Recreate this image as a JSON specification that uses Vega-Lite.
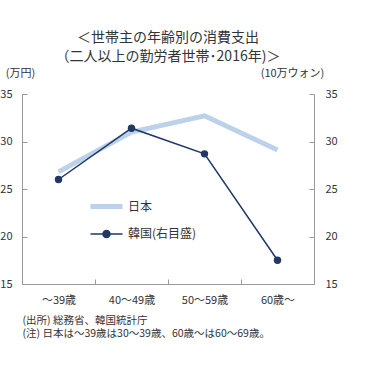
{
  "$schema": "https://vega.github.io/schema/vega-lite/v6.json",
  "width": 292,
  "height": 190,
  "autosize": "none",
  "padding": {"left": 22, "top": 94, "right": 61, "bottom": 101},
  "background": "white",
  "config": {
    "font": "Noto Sans CJK JP",
    "view": {"stroke": null},
    "axis": {"labelFont": "Noto Sans CJK JP", "titleFont": "Noto Sans CJK JP", "labelColor": "#333", "titleColor": "#333", "domainColor": "#999", "tickColor": "#999", "grid": false, "labelFontSize": 11, "titleFontWeight": "normal"}
  },
  "title": {
    "text": ["＜世帯主の年齢別の消費支出", "（二人以上の勤労者世帯･2016年)＞"],
    "fontSize": 14,
    "fontWeight": "normal",
    "color": "#333",
    "lineHeight": 19,
    "anchor": "middle",
    "frame": "group",
    "offset": 3
  },
  "data": {"values": [
    {"age": "～39歳", "series": "日本", "value": 26.8},
    {"age": "40～49歳", "series": "日本", "value": 31.0},
    {"age": "50～59歳", "series": "日本", "value": 32.7},
    {"age": "60歳～", "series": "日本", "value": 29.1},
    {"age": "～39歳", "series": "韓国(右目盛)", "value": 26.0},
    {"age": "40～49歳", "series": "韓国(右目盛)", "value": 31.4},
    {"age": "50～59歳", "series": "韓国(右目盛)", "value": 28.7},
    {"age": "60歳～", "series": "韓国(右目盛)", "value": 17.5}
  ]},
  "encoding": {
    "x": {
      "field": "age", "type": "ordinal", "sort": null,
      "scale": {"paddingInner": 0, "paddingOuter": 0},
      "axis": {
        "labelAngle": 0, "tickSize": -5, "labelPadding": 15, "tickBand": "extent",
        "title": ["(出所) 総務省、韓国統計庁", "(注) 日本は～39歳は30～39歳、60歳～は60～69歳。"],
        "titleFontSize": 10.5, "titleAnchor": "start", "titleAlign": "left", "titleX": 0, "titlePadding": 10, "titleLineHeight": 13.5
      }
    }
  },
  "layer": [
    {
      "transform": [{"filter": "datum.series === '日本'"}],
      "mark": {"type": "line", "strokeCap": "butt"},
      "encoding": {
        "y": {"field": "value", "type": "quantitative", "scale": {"domain": [15, 35]},
          "axis": {"orient": "left", "values": [15, 20, 25, 30, 35], "tickSize": -5, "labelPadding": 15, "title": "(万円)", "titleAngle": 0, "titleAlign": "center", "titleBaseline": "middle", "titleX": -2, "titleY": -21, "titleFontSize": 11}},
        "color": {"field": "series", "type": "nominal", "scale": {"domain": ["日本", "韓国(右目盛)"], "range": ["#bcd2ea", "#1f3864"]},
          "legend": {"title": null, "orient": "none", "legendX": 66, "legendY": 94, "symbolType": "stroke", "symbolSize": 1024, "labelFontSize": 12, "labelColor": "#333", "rowPadding": -8, "labelOffset": 3,
            "encode": {"symbols": {"update": {
              "shape": {"signal": "datum.value === '日本' ? 'stroke' : 'M-1,0H1M0.22,0A0.22,0.22,0,1,1,-0.22,0A0.22,0.22,0,1,1,0.22,0Z'"},
              "fill": {"signal": "datum.value === '日本' ? 'transparent' : '#1f3864'"},
              "strokeWidth": {"signal": "datum.value === '日本' ? 5 : 1.5"}
            }}}}},
        "strokeWidth": {"field": "series", "type": "nominal", "scale": {"domain": ["日本", "韓国(右目盛)"], "range": [5, 1.5]}, "legend": null}
      }
    },
    {
      "transform": [{"filter": "datum.series !== '日本'"}],
      "encoding": {
        "y": {"field": "value", "type": "quantitative", "scale": {"domain": [15, 35]},
          "axis": {"orient": "right", "values": [15, 20, 25, 30, 35], "tickSize": -5, "labelPadding": 16, "title": "(10万ウォン)", "titleAngle": 0, "titleAlign": "center", "titleBaseline": "middle", "titleX": -22, "titleY": -21, "titleFontSize": 11}},
        "color": {"field": "series", "type": "nominal"},
        "strokeWidth": {"field": "series", "type": "nominal"}
      },
      "layer": [
        {"mark": {"type": "line"}},
        {"mark": {"type": "point", "filled": true, "size": 55, "opacity": 1, "strokeWidth": 0}}
      ]
    }
  ],
  "resolve": {"scale": {"y": "independent"}}
}
